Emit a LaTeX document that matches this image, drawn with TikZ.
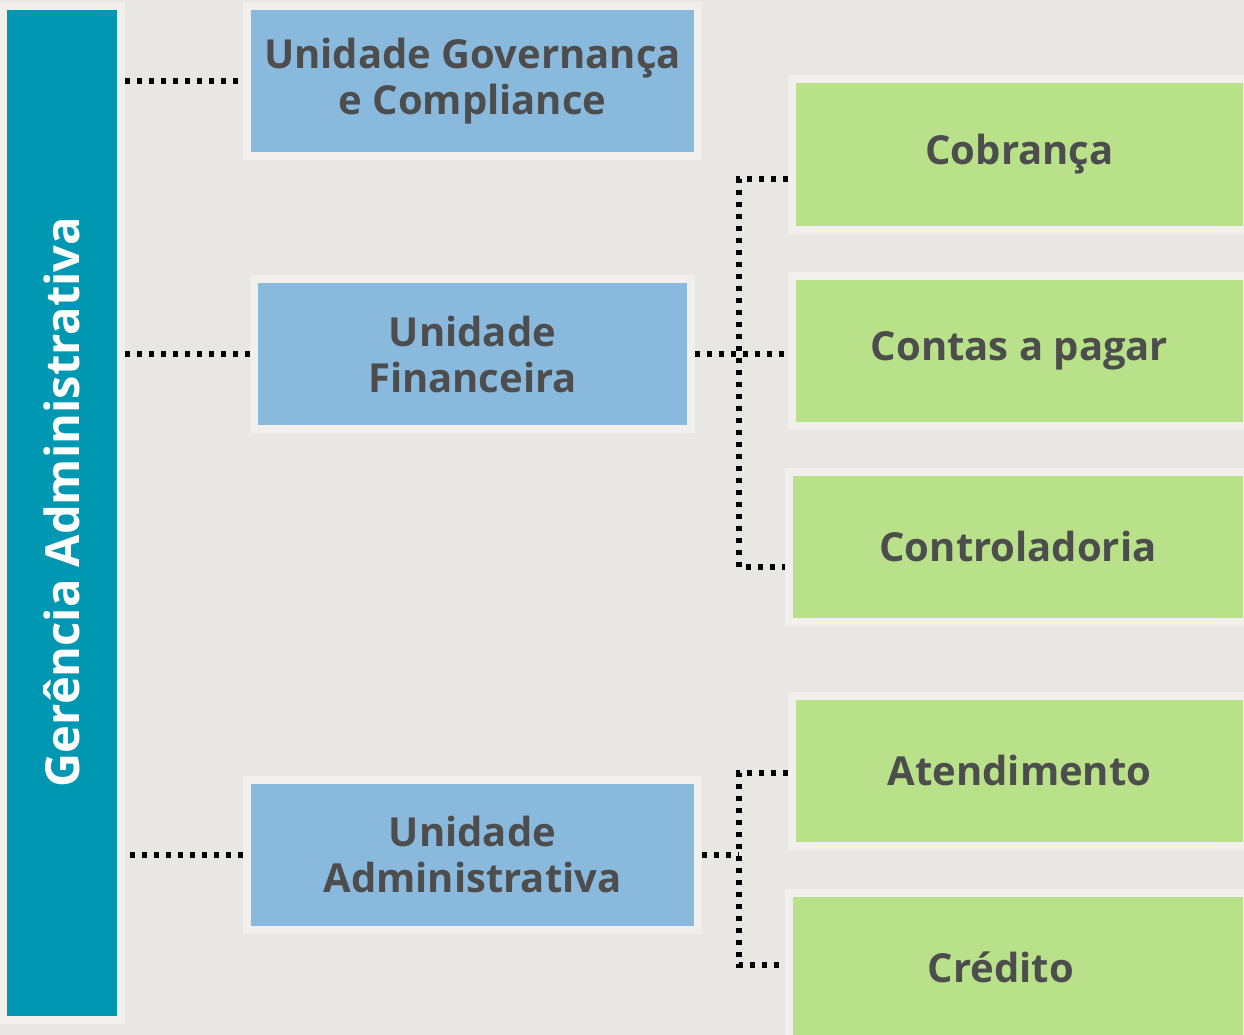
\documentclass[tikz,border=0pt]{standalone}
\usepackage{fontspec}
\setmainfont{Open Sans}
\usepackage{tikz}
\usetikzlibrary{positioning}
\definecolor{paper}{HTML}{E8E7E4}
\definecolor{rim}{HTML}{F1F0EC}
\definecolor{teal}{HTML}{0097B2}
\definecolor{unitblue}{HTML}{8AB9DE}
\definecolor{leafgreen}{HTML}{B9E18A}
\definecolor{ink}{HTML}{4D4D4D}

\begin{document}
\begin{tikzpicture}[x=1pt,y=-1pt]
\tikzstyle{box}=[draw=rim,line width=8pt,inner sep=0pt,align=center,text=ink,font=\bfseries\fontsize{40}{46}\selectfont]
\tikzstyle{unit}=[box,fill=unitblue,minimum height=150pt]
\tikzstyle{leaf}=[box,fill=leafgreen,minimum height=150pt]
\tikzstyle{dotline}=[line width=6pt,dash pattern=on 5pt off 7pt,black]

\useasboundingbox (0,0) rectangle (1244,1035);
\fill[paper] (0,0) rectangle (1244,1035);

\node [box,fill=teal,minimum width=118pt,minimum height=1014pt] (ga) at (62,513) {};
\node [rotate=90,text=white,font=\bfseries\fontsize{47}{52}\selectfont] (galabel) at (62,502) {Gerência Administrativa};

\node [unit,minimum width=451pt] (gov) at (472.5,81) {Unidade Governança\\e Compliance};
\node [unit,minimum width=437pt] (fin) at (472.5,354) {Unidade\\Financeira};
\node [unit,minimum width=451pt] (adm) at (472.5,854.5) {Unidade\\Administrativa};

\node [leaf,minimum width=455pt] (cob) at (1019.5,154.5) {Cobrança};
\node [leaf,minimum width=455pt] (cont) at (1019.5,350.5) {Contas a pagar};
\node [leaf,minimum width=458pt] (ctrl) at (1018,546.5) {Controladoria};
\node [leaf,minimum width=455pt] (aten) at (1019.5,770.5) {Atendimento};
\node [leaf,minimum width=458pt] (cred) at (1018,967.5) {\hspace*{-34pt}Crédito};

\coordinate (fintop) at (739,179);
\coordinate (finbot) at (739,567);
\coordinate (admtop) at (739,773);
\coordinate (admbot) at (739,965);

\draw [dotline] (ga.east |- gov.west) -- (gov.west);
\draw [dotline] (ga.east |- fin.west) -- (fin.west);
\draw [dotline] ([xshift=5pt]ga.east |- adm.west) -- (adm.west);

\draw [dotline] (fin.east) -- (fin.east -| cont.west);
\draw [dotline] (cob.west |- fintop) -- (fintop) -- (finbot) -- (ctrl.west |- finbot);
\draw [dotline] (adm.east) -- (adm.east -| admtop);
\draw [dotline] (aten.west |- admtop) -- (admtop) -- (admbot) -- (cred.west |- admbot);
\end{tikzpicture}
\end{document}
